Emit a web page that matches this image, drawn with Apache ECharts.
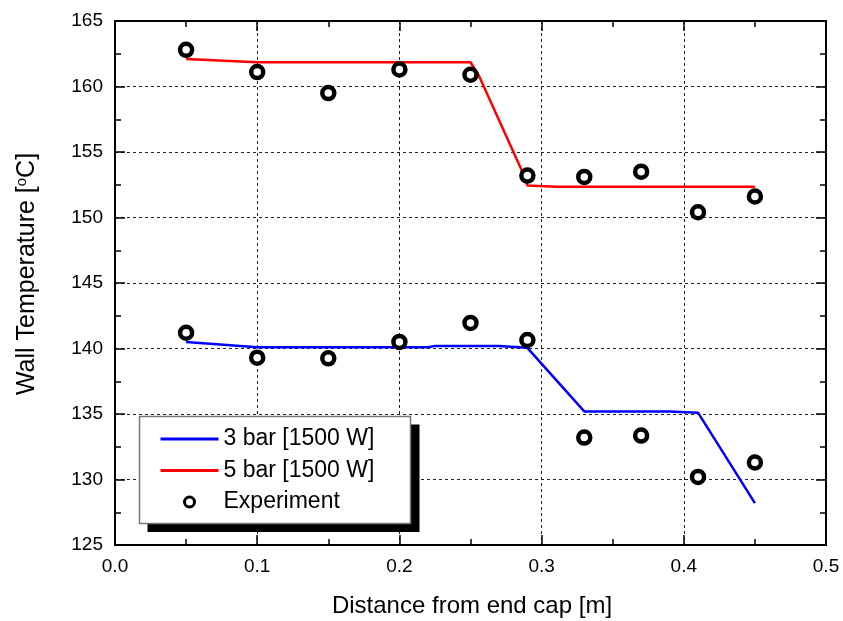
<!DOCTYPE html>
<html>
<head>
<meta charset="utf-8">
<script src="https://cdn.jsdelivr.net/npm/echarts@6/dist/echarts.min.js"></script>
<style>
  html, body { margin: 0; padding: 0; background: #fff; }
  #chart { width: 843px; height: 621px; }
</style>
</head>
<body>
<div id="chart"></div>
<script>
// experiment points
const expX = [0.05, 0.1, 0.15, 0.2, 0.25, 0.29, 0.33, 0.37, 0.41, 0.45]
const exp5bar = [162.8, 161.1, 159.5, 161.3, 160.9, 153.2, 153.1, 153.5, 150.4, 151.6]
const exp3bar = [141.2, 139.3, 139.25, 140.5, 141.95, 140.65, 133.2, 133.35, 130.2, 131.3]

// model lines
const line3X = [0.05, 0.1, 0.22, 0.225, 0.27, 0.29, 0.33, 0.39, 0.41, 0.45]
const line3Y = [140.5, 140.1, 140.1, 140.2, 140.2, 140.05, 135.2, 135.2, 135.1, 128.2]
const line5X = [0.05, 0.1, 0.25, 0.256, 0.286, 0.29, 0.31, 0.45]
const line5Y = [162.1, 161.85, 161.85, 160.8, 153.6, 152.45, 152.35, 152.35]

const xTicks = [0, 0.5, 0.1]
const yTicks = [125, 165, 5]

const font = 'Arial, "Liberation Sans", sans-serif'
const zip = (xs, ys) => xs.map((x, i) => [x, ys[i]])

let expData = zip(expX, exp5bar).concat(zip(expX, exp3bar))

let gridDash = { color: '#222', width: 1, type: [3, 3] }

function frameAxis(extra) {
  return Object.assign({
    axisLine: { show: true, onZero: false, lineStyle: { color: '#000', width: 2 } },
    axisTick: { show: true, inside: true, length: 10, lineStyle: { color: '#000', width: 1.5 } },
    minorTick: { show: true, splitNumber: 2, length: 6, lineStyle: { color: '#000', width: 1.5 } },
  }, extra)
}

let option = {
  animation: false,
  backgroundColor: '#fff',
  grid: { left: 115, right: 17, top: 21, bottom: 76 },
  xAxis: [
    frameAxis({
      type: 'value', min: xTicks[0], max: xTicks[1], interval: xTicks[2],
      position: 'bottom',
      axisLabel: { color: '#000', fontSize: 19, fontFamily: font, margin: 12,
        formatter: v => v.toFixed(1) },
      splitLine: { show: true, lineStyle: gridDash }
    }),
    frameAxis({
      type: 'value', min: xTicks[0], max: xTicks[1], interval: xTicks[2],
      position: 'top',
      axisLabel: { show: false },
      splitLine: { show: false }
    })
  ],
  yAxis: [
    frameAxis({
      type: 'value', min: yTicks[0], max: yTicks[1], interval: yTicks[2],
      position: 'left',
      axisLabel: { color: '#000', fontSize: 19, fontFamily: font, margin: 12 },
      splitLine: { show: true, lineStyle: gridDash }
    }),
    frameAxis({
      type: 'value', min: yTicks[0], max: yTicks[1], interval: yTicks[2],
      position: 'right',
      axisLabel: { show: false },
      splitLine: { show: false }
    })
  ],
  legend: {
    z: 30,
    left: 159, top: 427,
    orient: 'vertical',
    padding: 0,
    itemWidth: 58, itemHeight: 10, itemGap: 7.5,
    textStyle: { color: '#000', fontSize: 23, lineHeight: 24, fontFamily: font },
    data: [
      { name: '3 bar [1500 W]', itemStyle: { opacity: 0 }, lineStyle: { width: 3 } },
      { name: '5 bar [1500 W]', itemStyle: { opacity: 0 }, lineStyle: { width: 3 } },
      { name: 'Experiment', itemStyle: { color: '#fff', borderColor: '#000', borderWidth: 3 } }
    ]
  },
  graphic: [
    // legend shadow and box
    { type: 'rect', z: 10, shape: { x: 147.5, y: 424.5, width: 272, height: 107.5 }, style: { fill: '#000' } },
    { type: 'rect', z: 11, shape: { x: 139.5, y: 416.5, width: 271, height: 107 }, style: { fill: '#fff', stroke: '#777', lineWidth: 1.5 } },
    {
      type: 'text', rotation: Math.PI / 2,
      x: 27, y: 274,
      style: {
        text: 'Wall Temperature [{s|o}C]',
        rich: { s: { fontSize: 15, verticalAlign: 'top', padding: [0, 0, 9, 0], fontFamily: font, fill: '#000' } },
        fontSize: 25, fontFamily: font, fill: '#000',
        align: 'center', verticalAlign: 'middle'
      }
    },
    {
      type: 'text', x: 472, y: 606,
      style: {
        text: 'Distance from end cap [m]',
        fontSize: 24, fontFamily: font, fill: '#000',
        align: 'center', verticalAlign: 'middle'
      }
    }
  ],
  series: [
    {
      name: '3 bar [1500 W]', type: 'line', data: zip(line3X, line3Y),
      symbol: 'none', color: '#0000ff', lineStyle: { width: 2.5 }, z: 2
    },
    {
      name: '5 bar [1500 W]', type: 'line', data: zip(line5X, line5Y),
      symbol: 'none', color: '#ff0000', lineStyle: { width: 2.5 }, z: 2
    },
    {
      name: 'Experiment', type: 'scatter', data: expData,
      symbol: 'circle', symbolSize: 12,
      itemStyle: { color: '#fff', borderColor: '#000', borderWidth: 4.5, opacity: 1 },
      z: 3
    }
  ]
}

let chartsInstance = echarts.init(document.getElementById('chart'), null, { renderer: 'canvas' })
chartsInstance.setOption(option)
</script>
</body>
</html>
